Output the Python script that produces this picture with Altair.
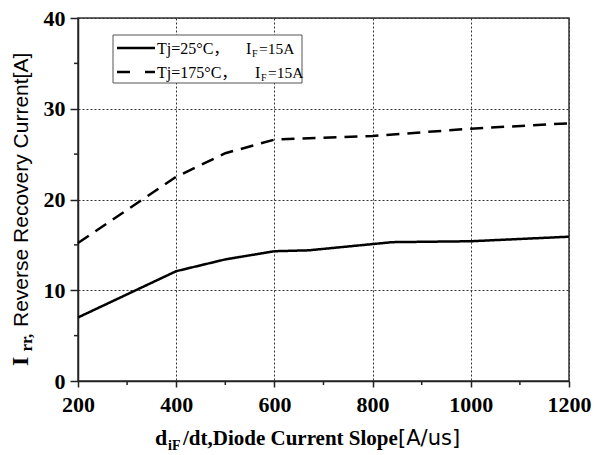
import altair as alt
import pandas as pd

# ---- data ----
series = ["Tj=25°C", "Tj=175°C"]
x_25 = [200, 400, 500, 600, 670, 840, 1000, 1200]
irr_25 = [7.0, 12.1, 13.4, 14.3, 14.4, 15.3, 15.4, 15.9]
x_175 = [200, 400, 500, 600, 800, 1000, 1200]
irr_175 = [15.2, 22.5, 25.1, 26.6, 27.0, 27.8, 28.4]

x_major = [200, 400, 600, 800, 1000, 1200]
x_minor = [300, 500, 700, 900, 1100]
y_major = [0, 10, 20, 30, 40]
y_minor = [5, 15, 25, 35]

df = pd.concat([
    pd.DataFrame({"x": x_25, "irr": irr_25, "series": series[0]}),
    pd.DataFrame({"x": x_175, "irr": irr_175, "series": series[1]}),
], ignore_index=True)
one = pd.DataFrame({"a": [0]})
xm = pd.DataFrame({"v": x_minor})
ym = pd.DataFrame({"v": y_minor})

W, H = 491, 363
SERIF = "Liberation Serif"
SERIF_CJK = "Liberation Serif, 'Noto Sans CJK SC'"
SANS = "Liberation Sans"
WIDE_SANS = "DejaVu Sans"
AX = "#222222"

xs = alt.Scale(domain=[200, 1200], nice=False, zero=False)
ys = alt.Scale(domain=[0, 40], nice=False, zero=True)

common = dict(title=None, grid=True, gridDash=[2, 2], gridColor="#333333", gridWidth=1,
              ticks=True, tickColor=AX, tickWidth=1.5, domainColor=AX, domainWidth=1.5,
              labelFont=SERIF, labelFontWeight="bold", labelFontSize=22,
              labelColor="black", labelFlush=False, labelOverlap=False, format="d")

lines = alt.Chart(df).mark_line(color="black", strokeWidth=2.5).encode(
    x=alt.X("x:Q", scale=xs, axis=alt.Axis(values=x_major, orient="bottom", tickSize=6,
                                          labelPadding=7, **common)),
    y=alt.Y("irr:Q", scale=ys, axis=alt.Axis(values=y_major, orient="left", tickSize=8,
                                            labelPadding=5, **common)),
    strokeDash=alt.StrokeDash("series:N", scale=alt.Scale(domain=series, range=[[1, 0], [13, 8]]), legend=None),
    detail="series:N",
)

# minor ticks (outward), positioned through the shared scales
minor_x = alt.Chart(xm).mark_rule(color=AX, strokeWidth=1.5).encode(
    x=alt.X("v:Q", scale=xs, axis=None), y=alt.value(H), y2=alt.value(H + 4))
minor_y = alt.Chart(ym).mark_rule(color=AX, strokeWidth=1.5).encode(
    y=alt.Y("v:Q", scale=ys, axis=None), x=alt.value(-4), x2=alt.value(0))

base1 = alt.Chart(one)

def txt(s, x, y, font=SERIF, size=16, weight="normal", angle=0):
    kw = dict(align="left", baseline="alphabetic", font=font, fontSize=size,
              fontWeight=weight, color="black")
    if angle:
        kw["angle"] = angle
    return base1.mark_text(**kw).encode(x=alt.value(x), y=alt.value(y), text=alt.value(s))

# legend
box = base1.mark_rect(fill="white", stroke="#555555", strokeWidth=1).encode(
    x=alt.value(35), x2=alt.value(224), y=alt.value(17), y2=alt.value(65))
leg1 = base1.mark_rule(color="black", strokeWidth=2.5).encode(
    x=alt.value(39), x2=alt.value(77), y=alt.value(30))
leg2 = base1.mark_rule(color="black", strokeWidth=2.5, strokeDash=[13, 15]).encode(
    x=alt.value(39), x2=alt.value(77), y=alt.value(54))
legend_texts = [
    txt("Tj=25°C，", 79, 36, font=SERIF_CJK),
    txt("I", 168, 36),
    txt("F", 174, 39, size=10),
    txt("=15A", 181, 36, size=15.5),
    txt("Tj=175°C，", 79, 60, font=SERIF_CJK),
    txt("I", 177, 60),
    txt("F", 183, 63, size=10),
    txt("=15A", 190, 60, size=15.5),
]

# axis titles
titles = [
    txt("d", 77, 427, size=22, weight="bold"),
    txt("iF", 90, 432, size=14, weight="bold"),
    txt("/dt,Diode Current Slope", 105, 427, size=21, weight="bold"),
    txt("[A/us]", 320, 427, font=WIDE_SANS, size=21),
    txt("I", -50, 348, size=24, weight="bold", angle=270),
    txt("rr,", -46, 333.5, size=17, weight="bold", angle=270),
    txt("Reverse Recovery Current[A]", -50, 309, font=SANS, size=21, angle=270),
]

chart = alt.layer(lines, minor_x, minor_y, box, leg1, leg2, *legend_texts, *titles).resolve_axis(
    x="independent", y="independent"
).properties(
    width=W, height=H,
    padding={"left": 78, "top": 18, "right": 26, "bottom": 74},
    autosize=alt.AutoSizeParams(type="none"),
    background="white",
).configure_view(stroke="#333333", strokeWidth=1.5)

chart.save("out.html", embed_options={"renderer": "svg", "actions": False})
